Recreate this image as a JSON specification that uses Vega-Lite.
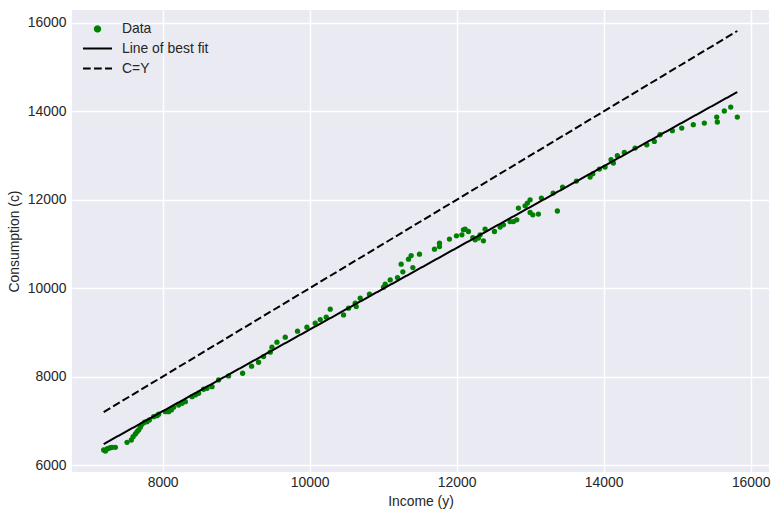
{
  "$schema": "https://vega.github.io/schema/vega-lite/v6.json",
  "width": 697,
  "height": 462,
  "autosize": "none",
  "padding": {"left": 72, "top": 10, "right": 10, "bottom": 44},
  "background": "white",
  "config": {
    "view": {"fill": "#EAEAF2", "stroke": null},
    "font": "Liberation Sans",
    "axis": {
      "domain": false,
      "ticks": false,
      "grid": true,
      "gridColor": "white",
      "gridWidth": 1.4,
      "labelFont": "Liberation Sans",
      "labelFontSize": 13.9,
      "labelColor": "#262626",
      "titleFont": "Liberation Sans",
      "titleFontSize": 13.9,
      "titleFontWeight": "normal",
      "titleColor": "#262626"
    },
    "legend": {
      "labelFont": "Liberation Sans",
      "labelFontSize": 13.9,
      "labelColor": "#262626",
      "symbolStrokeWidth": 2
    }
  },
  "data": {
    "values": [
      {"series": "Data", "x": 7198, "y": 6340},
      {"series": "Data", "x": 7221, "y": 6317},
      {"series": "Data", "x": 7244, "y": 6362},
      {"series": "Data", "x": 7266, "y": 6378},
      {"series": "Data", "x": 7289, "y": 6392},
      {"series": "Data", "x": 7312, "y": 6401},
      {"series": "Data", "x": 7357, "y": 6401},
      {"series": "Data", "x": 7516, "y": 6514},
      {"series": "Data", "x": 7574, "y": 6566},
      {"series": "Data", "x": 7598, "y": 6641},
      {"series": "Data", "x": 7629, "y": 6702},
      {"series": "Data", "x": 7652, "y": 6754},
      {"series": "Data", "x": 7674, "y": 6792},
      {"series": "Data", "x": 7697, "y": 6854},
      {"series": "Data", "x": 7720, "y": 6921},
      {"series": "Data", "x": 7755, "y": 6967},
      {"series": "Data", "x": 7788, "y": 6980},
      {"series": "Data", "x": 7819, "y": 7019},
      {"series": "Data", "x": 7878, "y": 7094},
      {"series": "Data", "x": 7924, "y": 7116},
      {"series": "Data", "x": 7946, "y": 7148},
      {"series": "Data", "x": 8037, "y": 7207},
      {"series": "Data", "x": 8082, "y": 7207},
      {"series": "Data", "x": 8118, "y": 7245},
      {"series": "Data", "x": 8150, "y": 7306},
      {"series": "Data", "x": 8218, "y": 7358},
      {"series": "Data", "x": 8264, "y": 7397},
      {"series": "Data", "x": 8309, "y": 7433},
      {"series": "Data", "x": 8400, "y": 7546},
      {"series": "Data", "x": 8445, "y": 7585},
      {"series": "Data", "x": 8489, "y": 7623},
      {"series": "Data", "x": 8557, "y": 7714},
      {"series": "Data", "x": 8604, "y": 7736},
      {"series": "Data", "x": 8672, "y": 7773},
      {"series": "Data", "x": 8761, "y": 7924},
      {"series": "Data", "x": 8897, "y": 8015},
      {"series": "Data", "x": 9088, "y": 8076},
      {"series": "Data", "x": 9210, "y": 8235},
      {"series": "Data", "x": 9305, "y": 8325},
      {"series": "Data", "x": 9373, "y": 8452},
      {"series": "Data", "x": 9464, "y": 8552},
      {"series": "Data", "x": 9487, "y": 8665},
      {"series": "Data", "x": 9555, "y": 8778},
      {"series": "Data", "x": 9668, "y": 8891},
      {"series": "Data", "x": 9835, "y": 9027},
      {"series": "Data", "x": 9963, "y": 9118},
      {"series": "Data", "x": 10076, "y": 9208},
      {"series": "Data", "x": 10144, "y": 9290},
      {"series": "Data", "x": 10226, "y": 9344},
      {"series": "Data", "x": 10280, "y": 9525},
      {"series": "Data", "x": 10461, "y": 9396},
      {"series": "Data", "x": 10529, "y": 9548},
      {"series": "Data", "x": 10620, "y": 9661},
      {"series": "Data", "x": 10634, "y": 9584},
      {"series": "Data", "x": 10688, "y": 9774},
      {"series": "Data", "x": 10814, "y": 9865},
      {"series": "Data", "x": 11005, "y": 10023},
      {"series": "Data", "x": 11028, "y": 10091},
      {"series": "Data", "x": 11096, "y": 10188},
      {"series": "Data", "x": 11195, "y": 10241},
      {"series": "Data", "x": 11245, "y": 10544},
      {"series": "Data", "x": 11268, "y": 10370},
      {"series": "Data", "x": 11345, "y": 10657},
      {"series": "Data", "x": 11381, "y": 10739},
      {"series": "Data", "x": 11404, "y": 10467},
      {"series": "Data", "x": 11494, "y": 10770},
      {"series": "Data", "x": 11698, "y": 10883},
      {"series": "Data", "x": 11766, "y": 11019},
      {"series": "Data", "x": 11766, "y": 10942},
      {"series": "Data", "x": 11902, "y": 11110},
      {"series": "Data", "x": 11997, "y": 11185},
      {"series": "Data", "x": 12071, "y": 11207},
      {"series": "Data", "x": 12092, "y": 11320},
      {"series": "Data", "x": 12115, "y": 11336},
      {"series": "Data", "x": 12160, "y": 11282},
      {"series": "Data", "x": 12220, "y": 11146},
      {"series": "Data", "x": 12251, "y": 11094},
      {"series": "Data", "x": 12296, "y": 11133},
      {"series": "Data", "x": 12319, "y": 11207},
      {"series": "Data", "x": 12364, "y": 11071},
      {"series": "Data", "x": 12387, "y": 11336},
      {"series": "Data", "x": 12514, "y": 11282},
      {"series": "Data", "x": 12591, "y": 11382},
      {"series": "Data", "x": 12636, "y": 11434},
      {"series": "Data", "x": 12727, "y": 11508},
      {"series": "Data", "x": 12772, "y": 11508},
      {"series": "Data", "x": 12818, "y": 11547},
      {"series": "Data", "x": 12840, "y": 11812},
      {"series": "Data", "x": 12931, "y": 11864},
      {"series": "Data", "x": 12962, "y": 11925},
      {"series": "Data", "x": 12999, "y": 12000},
      {"series": "Data", "x": 12999, "y": 11712},
      {"series": "Data", "x": 13036, "y": 11660},
      {"series": "Data", "x": 13112, "y": 11676},
      {"series": "Data", "x": 13153, "y": 12038},
      {"series": "Data", "x": 13312, "y": 12151},
      {"series": "Data", "x": 13370, "y": 11746},
      {"series": "Data", "x": 13441, "y": 12287},
      {"series": "Data", "x": 13629, "y": 12423},
      {"series": "Data", "x": 13815, "y": 12514},
      {"series": "Data", "x": 13852, "y": 12588},
      {"series": "Data", "x": 13942, "y": 12695},
      {"series": "Data", "x": 14019, "y": 12740},
      {"series": "Data", "x": 14100, "y": 12905},
      {"series": "Data", "x": 14132, "y": 12831},
      {"series": "Data", "x": 14186, "y": 12996},
      {"series": "Data", "x": 14281, "y": 13071},
      {"series": "Data", "x": 14427, "y": 13170},
      {"series": "Data", "x": 14586, "y": 13245},
      {"series": "Data", "x": 14689, "y": 13320},
      {"series": "Data", "x": 14767, "y": 13471},
      {"series": "Data", "x": 14934, "y": 13562},
      {"series": "Data", "x": 15062, "y": 13623},
      {"series": "Data", "x": 15219, "y": 13698},
      {"series": "Data", "x": 15369, "y": 13736},
      {"series": "Data", "x": 15538, "y": 13872},
      {"series": "Data", "x": 15546, "y": 13759},
      {"series": "Data", "x": 15641, "y": 14008},
      {"series": "Data", "x": 15728, "y": 14098},
      {"series": "Data", "x": 15818, "y": 13872},
      {"series": "Line of best fit", "x": 7198, "y": 6475},
      {"series": "Line of best fit", "x": 15818, "y": 14438},
      {"series": "C=Y", "x": 7198, "y": 7198},
      {"series": "C=Y", "x": 15818, "y": 15818}
    ]
  },
  "encoding": {
    "x": {
      "field": "x",
      "type": "quantitative",
      "title": "Income (y)",
      "scale": {"domain": [6767, 16249], "nice": false, "zero": false},
      "axis": {"values": [8000, 10000, 12000, 14000, 16000], "format": "d", "labelPadding": 3, "titlePadding": 6}
    },
    "y": {
      "field": "y",
      "type": "quantitative",
      "title": "Consumption (c)",
      "scale": {"domain": [5842, 16293], "nice": false, "zero": false},
      "axis": {"values": [6000, 8000, 10000, 12000, 14000, 16000], "format": "d", "labelPadding": 6, "titlePadding": 6}
    },
    "color": {
      "field": "series",
      "type": "nominal",
      "scale": {"domain": ["Data", "Line of best fit", "C=Y"], "range": ["#008000", "#000000", "#000000"]},
      "legend": {
        "title": null,
        "orient": "none",
        "legendX": 17,
        "legendY": 12,
        "padding": 0,
        "labelOffset": 16,
        "rowPadding": 4
      }
    }
  },
  "layer": [
    {
      "transform": [{"filter": "datum.series === 'Data'"}],
      "mark": {"type": "point", "filled": true, "opacity": 1},
      "encoding": {
        "shape": {
          "field": "series",
          "type": "nominal",
          "scale": {"domain": ["Data", "Line of best fit", "C=Y"], "range": ["circle", "M-2,0H2", "M-2,0H2"]},
          "legend": {"title": null}
        },
        "size": {
          "field": "series",
          "type": "nominal",
          "scale": {"type": "ordinal", "domain": ["Data", "Line of best fit", "C=Y"], "range": [28, 210, 210]},
          "legend": {"title": null}
        }
      }
    },
    {
      "transform": [{"filter": "datum.series !== 'Data'"}],
      "mark": {"type": "line", "strokeWidth": 2},
      "encoding": {
        "strokeDash": {
          "field": "series",
          "type": "nominal",
          "scale": {"domain": ["Data", "Line of best fit", "C=Y"], "range": [[1, 0], [1, 0], [7.7, 3.3]]},
          "legend": {"title": null}
        }
      }
    }
  ]
}
